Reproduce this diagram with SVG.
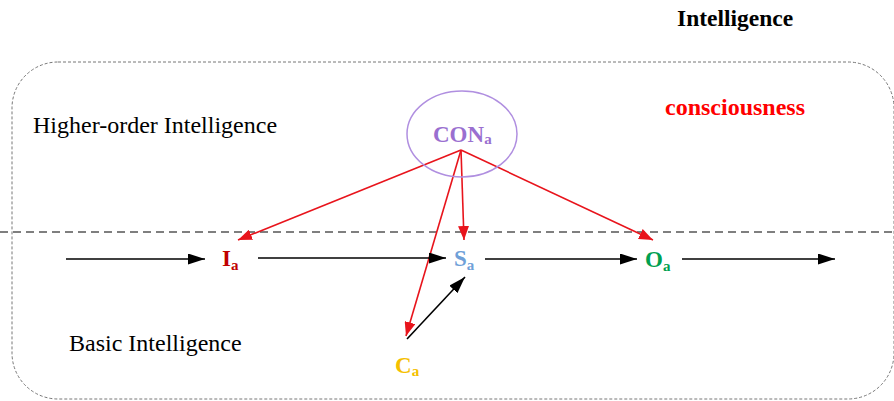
<svg xmlns="http://www.w3.org/2000/svg" width="894" height="401" viewBox="0 0 894 401">
<style>
.reg{font-family:"Liberation Serif","Times New Roman",serif;font-size:24px;fill:#000}
.bold{font-family:"Liberation Serif","Times New Roman",serif;font-weight:bold}
.lbl{font-family:"Liberation Serif","Times New Roman",serif;font-weight:bold;font-size:23px}
.sub{font-size:15px}
.red{stroke:#e8141c;stroke-width:1.6;fill:none}
.blk{stroke:#000;stroke-width:1.6;fill:none}
</style>
<defs>
<marker id="ar" viewBox="0 0 10 10" refX="10" refY="5" markerWidth="14" markerHeight="11" markerUnits="userSpaceOnUse" orient="auto" preserveAspectRatio="none"><path d="M0,0 L10,5 L0,10 z" fill="#e8141c"/></marker>
<marker id="ab" viewBox="0 0 10 10" refX="10" refY="5" markerWidth="17" markerHeight="11" markerUnits="userSpaceOnUse" orient="auto" preserveAspectRatio="none"><path d="M0,0 L10,5 L0,10 z" fill="#000"/></marker>
</defs>
<rect width="894" height="401" fill="#fff"/>
<g id="frame">
<rect x="12" y="62" width="882" height="337" rx="46" ry="46" fill="none" stroke="#777" stroke-width="1" stroke-dasharray="3,2"/>
<line x1="0" y1="232" x2="894" y2="232" stroke="#555" stroke-width="1.5" stroke-dasharray="8,5"/>
</g>
<g id="titles">
<text class="bold" x="677" y="26" font-size="23.5" fill="#000">Intelligence</text>
<text class="bold" x="665" y="115" font-size="24" fill="#ff0000">consciousness</text>
<text class="reg" x="33" y="133">Higher-order Intelligence</text>
<text class="reg" x="69" y="351">Basic Intelligence</text>
</g>
<g id="connectors">
<line class="red" x1="461" y1="150" x2="238" y2="240" marker-end="url(#ar)"/>
<line class="red" x1="461" y1="150" x2="464" y2="240" marker-end="url(#ar)"/>
<line class="red" x1="461" y1="150" x2="406" y2="336" marker-end="url(#ar)"/>
<line class="red" x1="461" y1="150" x2="653" y2="240" marker-end="url(#ar)"/>
<line class="blk" x1="66" y1="259" x2="205" y2="259" marker-end="url(#ab)"/>
<line class="blk" x1="258" y1="258" x2="446" y2="258" marker-end="url(#ab)"/>
<line class="blk" x1="485" y1="259" x2="637" y2="259" marker-end="url(#ab)"/>
<line class="blk" x1="682" y1="259" x2="835" y2="259" marker-end="url(#ab)"/>
<line class="blk" x1="407" y1="339" x2="465" y2="277" marker-end="url(#ab)"/>
</g>
<g id="CON">
<ellipse cx="462" cy="134" rx="55" ry="43" fill="none" stroke="#b08fe0" stroke-width="1.5"/>
<text class="lbl" x="433" y="142" fill="#9a6fd0">CON<tspan class="sub" dy="2">a</tspan></text>
</g>
<g id="I"><text class="lbl" x="222" y="266" fill="#c00000">I<tspan class="sub" dy="4">a</tspan></text></g>
<g id="S"><text class="lbl" x="454" y="266" fill="#6fa0d8">S<tspan class="sub" dy="4">a</tspan></text></g>
<g id="O"><text class="lbl" x="645" y="267" fill="#00a050">O<tspan class="sub" dy="4">a</tspan></text></g>
<g id="C"><text class="lbl" x="395" y="373" fill="#f5c000">C<tspan class="sub" dy="3">a</tspan></text></g>
</svg>
